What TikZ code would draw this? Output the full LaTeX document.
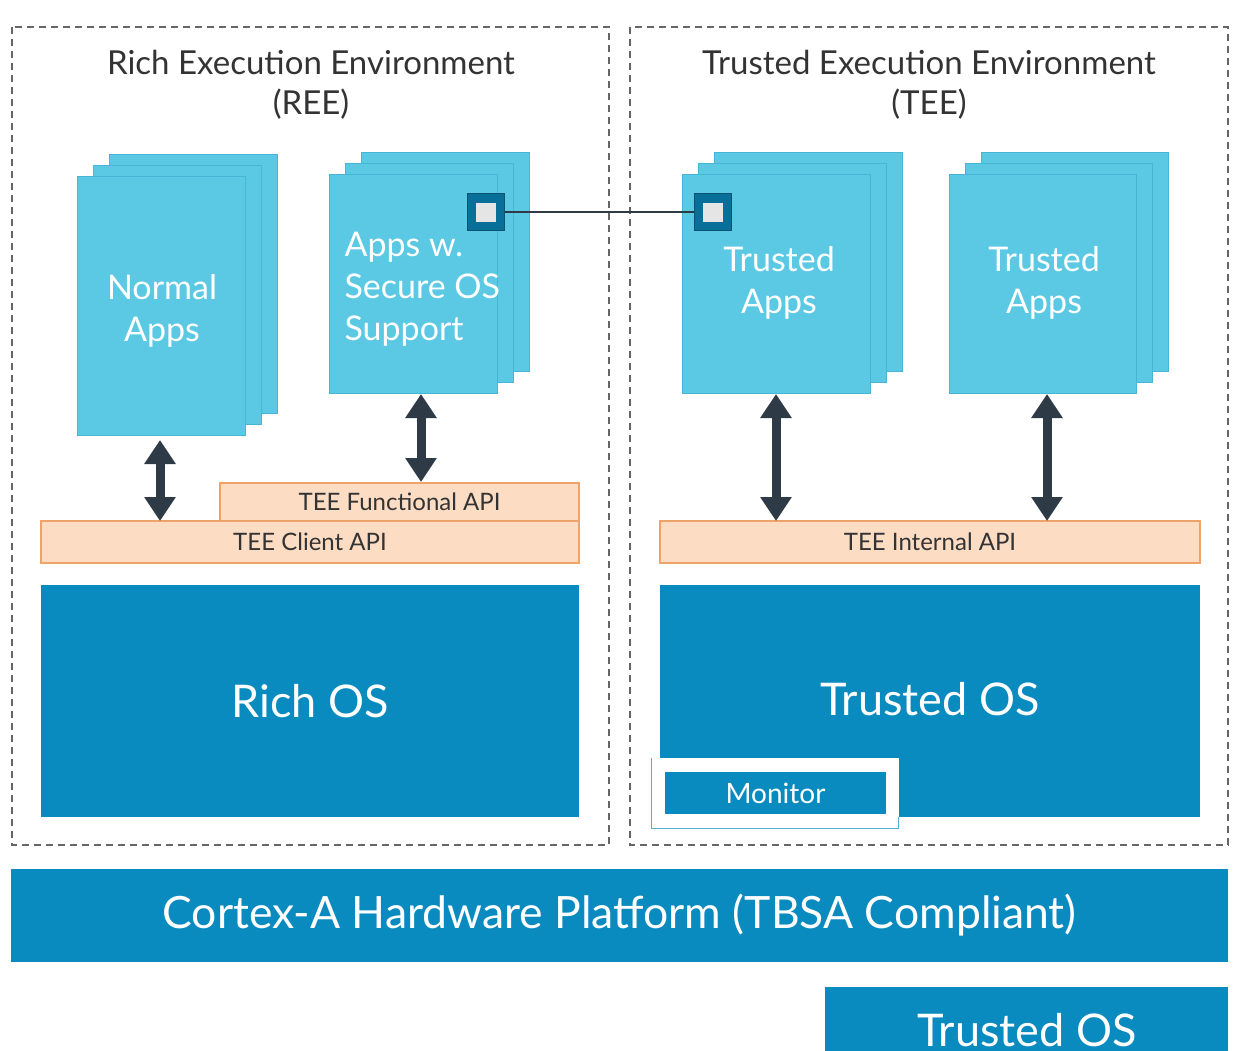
\documentclass[tikz,border=0pt]{standalone}
\usepackage{fontspec}
\setmainfont{Lato}
\usetikzlibrary{arrows.meta}
\definecolor{lb}{HTML}{5BC9E3}
\definecolor{lbe}{HTML}{46B6D6}
\definecolor{db}{HTML}{0A8BBF}
\definecolor{ar}{HTML}{2E3A46}
\definecolor{pf}{HTML}{FDDCC4}
\definecolor{pe}{HTML}{EFA36A}
\definecolor{tx}{HTML}{333333}
\begin{document}
\begin{tikzpicture}[x=1pt,y=-1pt,
  env/.style={draw=gray!80!black,dashed,dash pattern=on 7pt off 5pt,line width=1.2pt},
  page/.style={fill=lb,draw=lbe,line width=1pt},
  api/.style={fill=pf,draw=pe,line width=1.2pt,text=tx,font=\fontsize{24}{28}\selectfont},
  os/.style={fill=db,text=white},
  apptext/.style={text=white,font=\fontsize{34}{42}\selectfont,align=center},
  dbl/.style={ar,line width=9pt,{Triangle[width=30pt,length=24pt]}-{Triangle[width=30pt,length=24pt]}},
  port/.style={fill=db!80!black,draw=db!60!black,line width=1pt,minimum size=37pt,inner sep=0pt},
  title/.style={text=tx,font=\fontsize{33}{40}\selectfont,align=center}]
\useasboundingbox (0,0) rectangle (1236,1050);
\fill[white] (0,0) rectangle (1236,1050);
% environments
\draw[env] (12,27) rectangle (609,845);
\draw[env] (630,27) rectangle (1228,845);
\node[title] (reet) at (311,85) {Rich Execution Environment\\(REE)};
\node[title] (teet) at (929,85) {Trusted Execution Environment\\(TEE)};
% stacks
\newcommand{\stack}[5]{% x1 y1 x2 y2 name
  \draw[page] (#1+32,#2-22) rectangle (#3+32,#4-22);
  \draw[page] (#1+16,#2-11) rectangle (#3+16,#4-11);
  \draw[page] (#1,#2) rectangle (#3,#4) coordinate (#5);}
\stack{77}{176}{245}{435}{na}
\stack{329}{174}{497}{393}{sa}
\stack{682}{174}{870}{393}{ta}
\stack{949}{174}{1136}{393}{tb}
\node[apptext] (nat) at (162,311) {Normal\\Apps};
\node[apptext,align=left,anchor=west] (sat) at (341,289) {Apps w.\\Secure OS\\Support};
\node[apptext] (tat) at (779,283) {Trusted\\Apps};
\node[apptext] (tbt) at (1044,283) {Trusted\\Apps};
% ports
\node[port] (p1) at (486,212) {};
\node[port] (p2) at (713,212) {};
\fill[gray!20] (476,203) rectangle (496,222);
\fill[gray!20] (703,203) rectangle (723,222);
\draw[ar,line width=1.2pt] (p1.east) -- (p2.west);
% APIs
\node[api,minimum width=359pt,minimum height=38pt,inner sep=0pt] (fapi) at (399.5,502) {TEE Functional API};
\node[api,minimum width=538pt,minimum height=42pt,inner sep=0pt] (capi) at (310,542) {TEE Client API};
\node[api,minimum width=540pt,minimum height=42pt,inner sep=0pt] (iapi) at (930,542) {TEE Internal API};
% arrows
\coordinate (a1t) at (160,440); \coordinate (a1b) at (160,521);
\coordinate (a2t) at (421,394); \coordinate (a2b) at (421,482);
\coordinate (a3t) at (776,394); \coordinate (a3b) at (776,521);
\coordinate (a4t) at (1047,394); \coordinate (a4b) at (1047,521);
\draw[dbl] (a1t) -- (a1b);
\draw[dbl] (a2t) -- (a2b);
\draw[dbl] (a3t) -- (a3b);
\draw[dbl] (a4t) -- (a4b);
% OS
\node[os,minimum width=538pt,minimum height=232pt,inner sep=0pt,font=\fontsize{45}{52}\selectfont] (ros) at (310,701) {Rich OS};
\node[os,minimum width=540pt,minimum height=232pt,inner sep=0pt] (tos) at (930,701) {};
\node[text=white,font=\fontsize{45}{52}\selectfont] (tost) at (930,699) {Trusted OS};
\draw[white,fill=white] (651,758) rectangle (898,828);
\draw[db!70,line width=1pt] (651,758) -- (651,828) -- (898,828) -- (898,817);
\node[os,minimum width=221pt,minimum height=42pt,inner sep=0pt,font=\fontsize{28}{32}\selectfont] (mon) at (775.5,793) {Monitor};
% platform
\node[os,minimum width=1217pt,minimum height=93pt,inner sep=0pt,font=\fontsize{44.5}{52}\selectfont] (plat) at (619.5,915.5) {Cortex-A Hardware Platform (TBSA Compliant)};
\begin{scope}
\clip (0,0) rectangle (1236,1050);
\node[os,minimum width=403pt,minimum height=80pt,inner sep=0pt,anchor=north west] (bos) at (825,987) {};
\node[text=white,font=\fontsize{45}{52}\selectfont] (bost) at (1027,1030) {Trusted OS};
\end{scope}
\end{tikzpicture}
\end{document}
